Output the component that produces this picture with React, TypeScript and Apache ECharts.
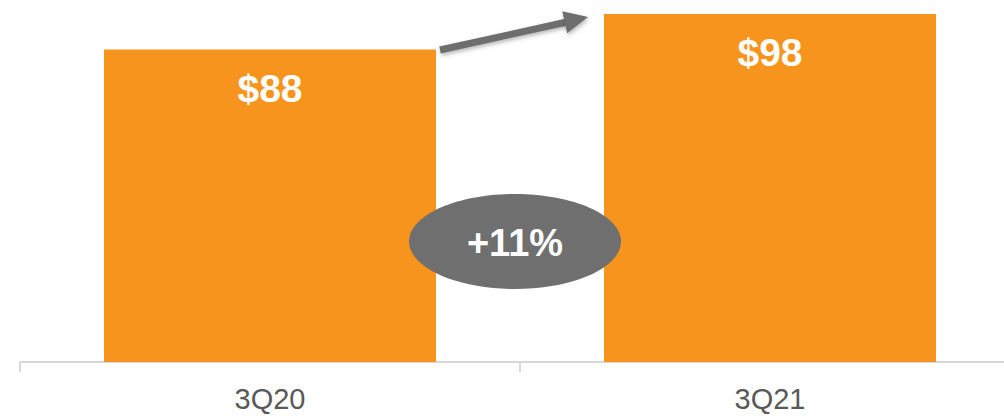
import React, { useEffect, useRef } from "react";
import * as echarts from "echarts";

const categories = ["3Q20", "3Q21"];
const revenue = [88, 98];
const valueLabels = ["$88", "$98"];
const growthLabel = "+11%";

export default function App() {
  const ref = useRef<HTMLDivElement>(null);
  useEffect(() => {
    if (!ref.current) return;
    const chart = echarts.init(ref.current, undefined, { renderer: "svg" });
    const gray = "#6e6e6e";
    chart.setOption({
      animation: false,
      grid: { left: 20, right: 0, top: 7, bottom: 54 },
      xAxis: {
        type: "category",
        data: categories,
        axisLine: { show: true, lineStyle: { color: "#d9d9d9", width: 2 } },
        axisTick: { show: true, length: 10, lineStyle: { color: "#d9d9d9", width: 2 } },
        axisLabel: {
          color: "#595959",
          fontSize: 29,
          fontFamily: "Liberation Sans, Arial, sans-serif",
          margin: 22,
        },
      },
      yAxis: { type: "value", min: 0, max: 100, show: false, splitLine: { show: false } },
      series: [
        {
          type: "bar",
          data: revenue,
          barWidth: "66.4%",
          itemStyle: { color: "#F7941E" },
          label: {
            show: true,
            position: "insideTop",
            distance: 19,
            color: "#ffffff",
            fontSize: 39,
            fontWeight: "bold",
            fontFamily: "Liberation Sans, Arial, sans-serif",
            formatter: (p: any) => valueLabels[p.dataIndex],
          },
        },
      ],
      graphic: [
        {
          type: "line",
          shape: { x1: 440, y1: 50, x2: 567, y2: 22 },
          style: {
            stroke: gray,
            lineWidth: 7,
            shadowBlur: 4,
            shadowColor: "rgba(0,0,0,0.3)",
            shadowOffsetX: 1,
            shadowOffsetY: 2,
          },
          z: 10,
        },
        {
          type: "polygon",
          shape: { points: [[588, 17], [567.2, 33.2], [562.2, 11.2]] },
          style: {
            fill: gray,
            shadowBlur: 4,
            shadowColor: "rgba(0,0,0,0.3)",
            shadowOffsetX: 1,
            shadowOffsetY: 2,
          },
          z: 10,
        },
        {
          type: "ellipse",
          shape: { cx: 515, cy: 241.5, rx: 106, ry: 47.5 },
          style: { fill: "#6f6f6f" },
          z: 10,
        },
        {
          type: "text",
          x: 515,
          y: 243,
          style: {
            text: growthLabel,
            fill: "#ffffff",
            fontSize: 38,
            fontWeight: "bold",
            fontFamily: "Liberation Sans, Arial, sans-serif",
            align: "center",
            verticalAlign: "middle",
          },
          z: 11,
        },
      ],
    });
    return () => chart.dispose();
  }, []);
  return (
    <div
      style={{
        position: "absolute",
        left: 0,
        top: 0,
        width: 1004,
        height: 416,
        overflow: "hidden",
        background: "#fff",
      }}
    >
      <div ref={ref} style={{ width: 1020, height: 416 }} />
    </div>
  );
}
